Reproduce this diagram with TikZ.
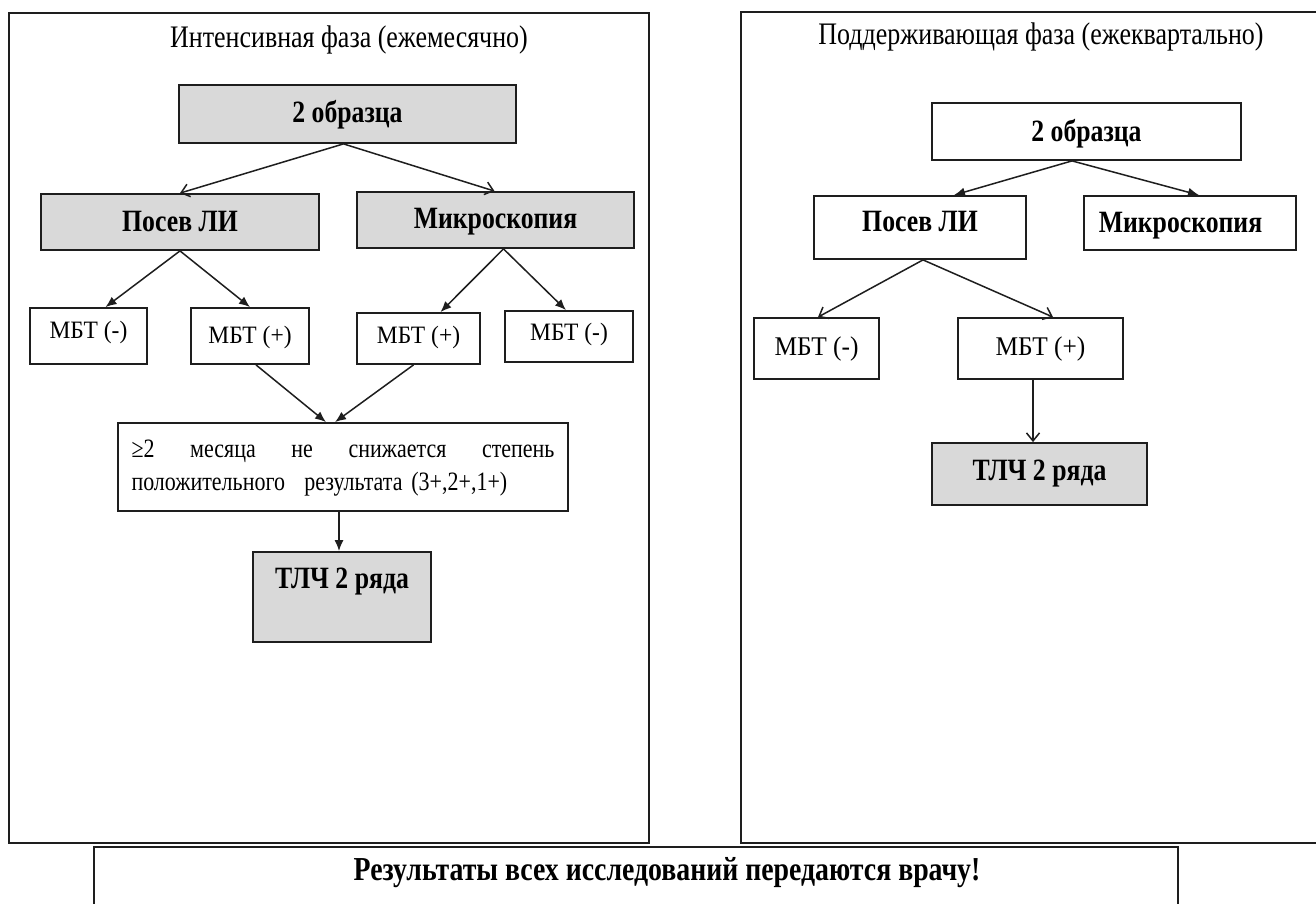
\documentclass[tikz,border=0pt]{standalone}
\usepackage{fontspec}
\setmainfont{Liberation Serif}[FakeStretch=0.83]
\newfontfamily\mbtfont{Liberation Serif}[FakeStretch=0.94]
\usetikzlibrary{arrows.meta,calc}
\definecolor{boxgray}{HTML}{D9D9D9}
\definecolor{ink}{HTML}{1E1E1E}
\tikzset{
  panel/.style={draw=ink, line width=2pt, inner sep=0pt, anchor=north west},
  box/.style={draw=ink, line width=1.8pt, inner sep=0pt, align=center, text depth=0pt},
  gbox/.style={box, fill=boxgray},
  lbl/.style={font=\fontsize{31}{36}\selectfont\bfseries},
  mbt/.style={font=\mbtfont\fontsize{25}{30}\selectfont},
  mbtR/.style={font=\mbtfont\fontsize{27}{32}\selectfont},
  title/.style={font=\fontsize{31.3}{36}\selectfont, anchor=base, inner sep=0pt},
  arr/.style={draw=ink, line width=1.5pt, -{Latex[length=11pt,width=9pt]}},
  barb/.style={draw=ink, line width=1.5pt, -{Straight Barb[length=8pt,width=13pt]}}
}
\begin{document}
\begin{tikzpicture}[x=1pt, y=-1pt]
\useasboundingbox (0,0) rectangle (1316,904);
\clip (0,0) rectangle (1316,904);
\fill[white] (0,0) rectangle (1316,904);

% panels
\node[panel, minimum width=640pt, minimum height=830pt] (panelL) at (8,12) {};
\node[panel, minimum width=580pt, minimum height=831pt] (panelR) at (740,11) {};

% titles
\node[title] (Ltitle) at (349,48) {Интенсивная фаза (ежемесячно)};
\node[title] (Rtitle) at (1041,45) {Поддерживающая фаза (ежеквартально)};

% left panel
\node[gbox, lbl, minimum width=337pt, minimum height=58pt, text height=18pt] (L2obr) at (347.5,114) {2 образца};
\node[gbox, lbl, minimum width=278pt, minimum height=56pt, text height=18pt] (Lposev) at (180,222) {Посев ЛИ};
\node[gbox, lbl, minimum width=277pt, minimum height=56pt, text height=16pt] (Lmicro) at (495.5,220) {Микроскопия};
\node[box, mbt, minimum width=117pt, minimum height=56pt, text height=4pt] (LmbtN) at (88.5,336) {МБТ (-)};
\node[box, mbt, minimum width=118pt, minimum height=56pt, text height=14pt] (LmbtP) at (250,336) {МБТ (+)};
\node[box, mbt, minimum width=123pt, minimum height=51pt, text height=9pt] (LmbtP2) at (418.5,338.5) {МБТ (+)};
\node[box, mbt, minimum width=128pt, minimum height=51pt, text height=7pt] (LmbtN2) at (569,336.5) {МБТ (-)};
\node[box, font=\fontsize{26.5}{33}\selectfont, minimum width=450pt, minimum height=88pt,
      text width=423pt, align=left, text height=0pt, text depth=20pt] (Lcond) at (343,467)
  {\hbox to 423pt{≥2\hfill месяца\hfill не\hfill снижается\hfill степень}\\положительного\hspace{0.4em} результата (3+,2+,1+)};
\node[gbox, lbl, minimum width=178pt, minimum height=90pt, text height=0pt, text depth=18pt] (LtlchA) at (342,597) {ТЛЧ 2 ряда};

\draw[barb] ([xshift=-4pt]L2obr.south) -- (Lposev.north);
\draw[barb] ([xshift=-4pt]L2obr.south) -- ([xshift=-1pt]Lmicro.north);
\draw[arr] (Lposev.south) -- ([xshift=17pt]LmbtN.north);
\draw[arr] (Lposev.south) -- (LmbtP.north);
\draw[arr] ([xshift=8pt]Lmicro.south) -- ([xshift=22pt]LmbtP2.north);
\draw[arr] ([xshift=8pt]Lmicro.south) -- ([xshift=-3pt]LmbtN2.north);
\draw[arr] ([xshift=6pt]LmbtP.south) -- ([xshift=-17pt]Lcond.north);
\draw[arr] ([xshift=-5pt]LmbtP2.south) -- ([xshift=-8pt]Lcond.north);
\draw[arr] ([xshift=-4pt]Lcond.south) -- ([xshift=-3pt]LtlchA.north);

% right panel
\node[box, lbl, minimum width=309pt, minimum height=57pt, text height=21pt] (R2obr) at (1086.5,131.5) {2 образца};
\node[box, lbl, minimum width=212pt, minimum height=63pt, text height=7pt] (Rposev) at (920,227.5) {Посев ЛИ};
\node[box, lbl, minimum width=212pt, minimum height=54pt, text height=18pt] (Rmicro) at (1190,223) {Микроскопия\hspace*{19pt}};
\node[box, mbtR, minimum width=125pt, minimum height=61pt, text height=13pt] (RmbtN) at (816.5,348.5) {МБТ (-)};
\node[box, mbtR, minimum width=165pt, minimum height=61pt, text height=13pt] (RmbtP) at (1040.5,348.5) {МБТ (+)};
\node[gbox, lbl, minimum width=215pt, minimum height=62pt, text height=12pt] (RtlchA) at (1039.5,474) {ТЛЧ 2 ряда};

\draw[arr] ([xshift=-14.5pt]R2obr.south) -- ([xshift=34pt]Rposev.north);
\draw[arr] ([xshift=-14.5pt]R2obr.south) -- ([xshift=9pt]Rmicro.north);
\draw[barb] ([xshift=3pt]Rposev.south) -- ([xshift=1.5pt]RmbtN.north);
\draw[barb] ([xshift=3pt]Rposev.south) -- ([xshift=12.5pt]RmbtP.north);
\draw[barb] ([xshift=-7.5pt]RmbtP.south) -- ([xshift=-6.5pt]RtlchA.north);

% bottom
\node[box, font=\fontsize{33.5}{38}\selectfont\bfseries, minimum width=1084pt, minimum height=66pt, text height=0pt] (result) at (636,880)
  {\hspace*{62pt}Результаты всех исследований передаются врачу!};
\end{tikzpicture}
\end{document}
